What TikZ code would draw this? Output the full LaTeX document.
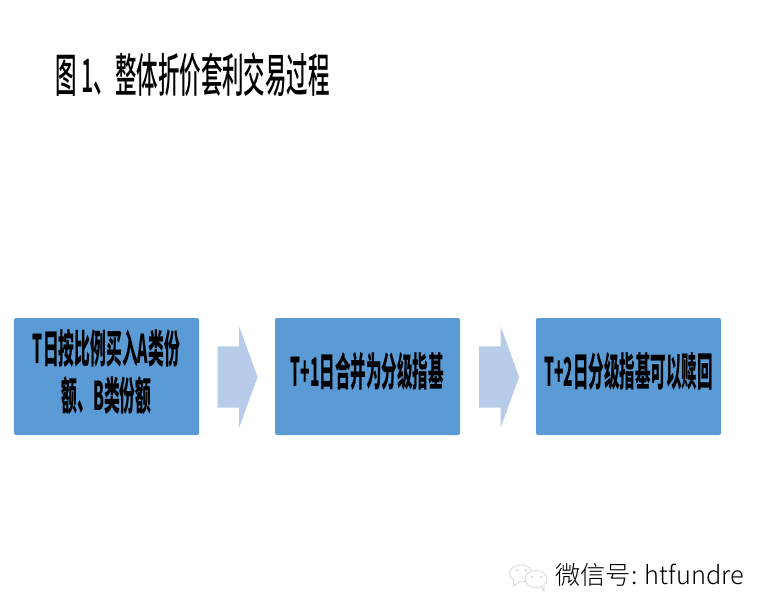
\documentclass[tikz,border=0pt]{standalone}
\usepackage{fontspec}
\usepackage{graphicx}
\newfontfamily\cjk{Noto Sans CJK SC}
\newfontfamily\cjkmedium{Noto Sans CJK SC Medium}
\newfontfamily\cjklight{Noto Sans CJK SC Light}
\usetikzlibrary{shapes.arrows}
\newcommand{\squeezed}[2][0.53]{\scalebox{#1}[1.35]{\begin{tabular}{@{}c@{}}#2\end{tabular}}}
\definecolor{boxblue}{HTML}{5B9BD5}
\definecolor{arrowblue}{HTML}{B7CCE9}
\definecolor{iconline}{HTML}{D2D2D2}
\begin{document}
\begin{tikzpicture}[x=0.03cm,y=-0.03cm,
stepbox/.style={shape=rectangle,fill=boxblue,rounded corners=0.06cm,minimum width=5.55cm,minimum height=3.51cm,inner sep=0pt,font=\cjk\bfseries\fontsize{25}{28}\selectfont},
nextarrow/.style={shape=single arrow,fill=arrowblue,inner xsep=0pt,inner ysep=0.915cm,minimum height=1.2cm,single arrow head extend=0.6cm,single arrow tip angle=140},
bubble/.style={draw=iconline,fill=white,line width=0.6pt}]
\def\dy{376.5};
\def\dxa{106.5};
\def\dxb{261};
\useasboundingbox (0,0) rectangle (768,614);

\node[anchor=west,inner sep=0pt,font=\cjkmedium\fontsize{33}{40}\selectfont] (title) at (55,75) {\scalebox{0.555}[1.2]{图 1、整体折价套利交易过程}};

\node[stepbox] (buy) at (\dxa,\dy) {\squeezed[0.54]{T日按比例买入A类份\\额、B类份额}};
\node[stepbox] (merge) at (\dxa+\dxb,\dy) {\squeezed{T+1日合并为分级指基}};
\node[stepbox] (redeem) at (\dxa+2*\dxb,\dy) {\squeezed{T+2日分级指基可以赎回}};

\node[nextarrow] (go1) at (232,377) {};
\node[nextarrow] (go2) at (493.5,377) {};

% icon
\draw[bubble] (521,573.5) ellipse (11.5 and 8.5);
\draw[bubble] (514,580) -- (513,586) -- (520,582);
\fill[iconline] (517,570) circle (1.2) (526,570) circle (1.2);
\draw[bubble] (536,579) ellipse (11 and 8.5);
\draw[bubble] (541,586.5) -- (544,591) -- (544,585);
\fill[iconline] (532,577) circle (1.2) (541,577) circle (1.2);

\node[anchor=west,inner sep=0pt,font=\cjklight\fontsize{21.6}{26}\selectfont] (account) at (555,575) {微信号: htfundre};
\end{tikzpicture}
\end{document}
